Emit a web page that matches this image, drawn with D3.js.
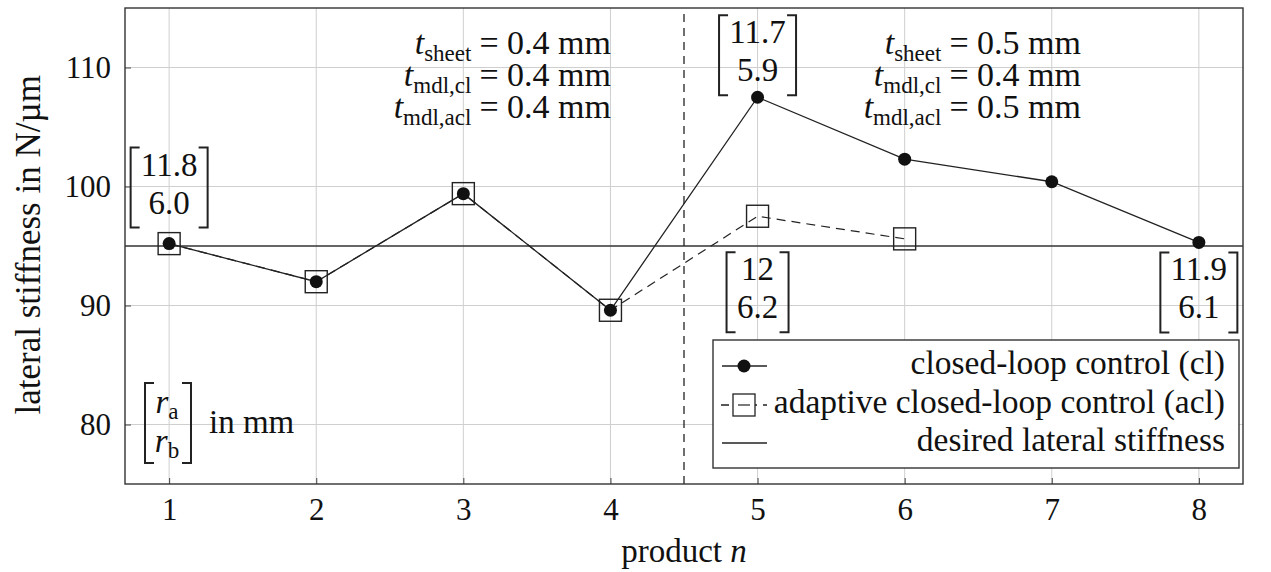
<!DOCTYPE html>
<html>
<head>
<meta charset="utf-8">
<script src="https://cdn.jsdelivr.net/npm/d3@7"></script>
<style>
  body { margin: 0; background: #fff; }
</style>
</head>
<body>
<svg id="chart" width="1271" height="572" font-family="Liberation Serif"></svg>
<script>
// data
var products = [1, 2, 3, 4, 5, 6, 7, 8];
var clValues = [95.2, 92.0, 99.4, 89.6, 107.5, 102.3, 100.4, 95.3];
var aclProducts = [1, 2, 3, 4, 5, 6];
var aclValues = [95.2, 92.0, 99.4, 89.6, 97.5, 95.6];
var desired = 95;
var yTicks = [80, 90, 100, 110];
var splitAt = 4.5;

// radius annotations [r_a; r_b]
var matProduct = [1, 5, 5, 8];
var matTop = ["11.8", "11.7", "12", "11.9"];
var matBottom = ["6.0", "5.9", "6.2", "6.1"];

var thickLabels = [["sheet", "mdl,cl", "mdl,acl"], ["sheet", "mdl,cl", "mdl,acl"]];
var thickValues = [["0.4", "0.4", "0.4"], ["0.5", "0.4", "0.5"]];

var legendLabels = ["closed-loop control (cl)", "adaptive closed-loop control (acl)", "desired lateral stiffness"];

var FONT = "Liberation Serif";
var svg = d3.select("#chart");
var margin = {top: 8, right: 28, bottom: 88, left: 125},
    width = +svg.attr("width") - margin.left - margin.right,
    height = +svg.attr("height") - margin.top - margin.bottom;

var x = d3.scaleLinear().domain([0.7, 8.3]).range([margin.left, margin.left + width]);
var y = d3.scaleLinear().domain([75, 115]).range([margin.top + height, margin.top]);

// grid
svg.append("g").selectAll("line")
    .data(products).enter().append("line")
    .attr("x1", function(d) { return x(d); }).attr("x2", function(d) { return x(d); })
    .attr("y1", y(75)).attr("y2", y(115))
    .attr("stroke", "#cfcfcf").attr("stroke-width", 1);
svg.append("g").selectAll("line")
    .data(yTicks).enter().append("line")
    .attr("y1", function(d) { return y(d); }).attr("y2", function(d) { return y(d); })
    .attr("x1", x(0.7)).attr("x2", x(8.3))
    .attr("stroke", "#cfcfcf").attr("stroke-width", 1);

// axes (ticks inward)
var xAxis = svg.append("g")
    .attr("transform", "translate(0," + y(75) + ")")
    .call(d3.axisBottom(x).tickValues(products).tickSize(-6).tickPadding(14).tickFormat(d3.format("d")));
var yAxis = svg.append("g")
    .attr("transform", "translate(" + x(0.7) + ",0)")
    .call(d3.axisLeft(y).tickValues(yTicks).tickSize(-6).tickPadding(14));
[xAxis, yAxis].forEach(function(a) {
    a.attr("font-family", FONT).attr("font-size", 31);
    a.select(".domain").remove();
    a.selectAll(".tick line").attr("stroke", "#444");
    a.selectAll(".tick text").attr("fill", "#111");
});

// desired stiffness
svg.append("line")
    .attr("x1", x(0.7)).attr("x2", x(8.3))
    .attr("y1", y(desired)).attr("y2", y(desired))
    .attr("stroke", "#333").attr("stroke-width", 1.3);

// split line
svg.append("line")
    .attr("x1", x(splitAt)).attr("x2", x(splitAt))
    .attr("y1", y(75)).attr("y2", y(115))
    .attr("stroke", "#222").attr("stroke-width", 1.3).attr("stroke-dasharray", "8,6");

// frame
svg.append("rect")
    .attr("x", x(0.7)).attr("y", y(115))
    .attr("width", width).attr("height", height)
    .attr("fill", "none").attr("stroke", "#333").attr("stroke-width", 1.4);

var line = d3.line().x(function(d) { return x(d[0]); }).y(function(d) { return y(d[1]); });
var aclPts = d3.zip(aclProducts, aclValues);
var clPts = d3.zip(products, clValues);

svg.append("path").datum(aclPts).attr("d", line)
    .attr("fill", "none").attr("stroke", "#222").attr("stroke-width", 1.2).attr("stroke-dasharray", "9,6");
svg.append("path").datum(clPts).attr("d", line)
    .attr("fill", "none").attr("stroke", "#222").attr("stroke-width", 1.3);

var sq = 22;
svg.selectAll("rect.acl").data(aclPts).enter().append("rect")
    .attr("class", "acl")
    .attr("x", function(d) { return x(d[0]) - sq / 2; })
    .attr("y", function(d) { return y(d[1]) - sq / 2; })
    .attr("width", sq).attr("height", sq)
    .attr("fill", "none").attr("stroke", "#222").attr("stroke-width", 1.4);
svg.selectAll("circle.cl").data(clPts).enter().append("circle")
    .attr("class", "cl")
    .attr("cx", function(d) { return x(d[0]); })
    .attr("cy", function(d) { return y(d[1]); })
    .attr("r", 6.5).attr("fill", "#111");

function txt(g, xx, yy, size, anchor) {
    return g.append("text").attr("x", xx).attr("y", yy)
        .attr("font-family", FONT).attr("font-size", size)
        .attr("text-anchor", anchor || "start").attr("fill", "#111");
}

// bracket helper
function bracket(g, cx, cy, w, h) {
    var l = cx - w / 2, r = cx + w / 2, t = cy - h / 2, b = cy + h / 2;
    g.append("path").attr("d", "M" + (l + 9) + "," + t + "H" + l + "V" + b + "H" + (l + 9))
        .attr("fill", "none").attr("stroke", "#222").attr("stroke-width", 2);
    g.append("path").attr("d", "M" + (r - 9) + "," + t + "H" + r + "V" + b + "H" + (r - 9))
        .attr("fill", "none").attr("stroke", "#222").attr("stroke-width", 2);
}

// matrix annotations: centre offsets relative to the associated point
var matAnchor = [clValues[0], clValues[4], aclValues[4], clValues[7]];
var matShift = [-56, -42, 76, 50];
matProduct.forEach(function(p, i) {
    var g = svg.append("g");
    var cx = x(p), cy = y(matAnchor[i]) + matShift[i];
    var w = matTop[i].length > 2 ? 77 : 62;
    bracket(g, cx, cy, w, 80);
    txt(g, cx, cy - 12, 33, "middle").text(matTop[i]);
    txt(g, cx, cy + 26, 33, "middle").text(matBottom[i]);
});

// [r_a; r_b] in mm
var rg = svg.append("g");
bracket(rg, 168, 423, 46, 80);
["a", "b"].forEach(function(s, i) {
    var t = txt(rg, 167, 413 + i * 39, 33, "middle");
    t.append("tspan").attr("font-style", "italic").text("r");
    t.append("tspan").attr("font-size", 23).attr("dy", 6).text(s);
});
txt(rg, 209, 433, 33).text("in mm");

// thickness blocks, right-aligned so the "=" signs line up
var blockRight = [611, 1081];
thickLabels.forEach(function(labels, b) {
    labels.forEach(function(lab, i) {
        var by = 54 + i * 32;
        var t = txt(svg, blockRight[b], by, 34, "end");
        t.append("tspan").attr("font-style", "italic").text("t");
        t.append("tspan").attr("font-size", 23).attr("dy", 7).text(lab);
        t.append("tspan").attr("dy", -7).attr("dx", 8).text("= " + thickValues[b][i] + " mm");
    });
});

// legend
var lg = svg.append("g");
lg.append("rect").attr("x", 713).attr("y", 340).attr("width", 526).attr("height", 128)
    .attr("fill", "#fff").attr("stroke", "#333").attr("stroke-width", 1.4);
var rowY = [366, 405, 443];
legendLabels.forEach(function(lab, i) {
    var ly = rowY[i];
    var ln = lg.append("line").attr("x1", 722).attr("x2", 767).attr("y1", ly).attr("y2", ly)
        .attr("stroke", "#222").attr("stroke-width", 1.3);
    if (i === 0) lg.append("circle").attr("cx", 744).attr("cy", ly).attr("r", 6.5).attr("fill", "#111");
    if (i === 1) {
        ln.attr("stroke-dasharray", "8,6").attr("x1", 721);
        lg.append("rect").attr("x", 733).attr("y", ly - 11).attr("width", 22).attr("height", 22)
            .attr("fill", "#fff").attr("stroke", "#222").attr("stroke-width", 1.3);
        lg.append("line").attr("x1", 738).attr("x2", 750).attr("y1", ly).attr("y2", ly).attr("stroke", "#222").attr("stroke-width", 1.2);
    }
    txt(lg, 1225, ly + 8, 33.5, "end").text(lab);
});

// axis titles
var xt = txt(svg, x(4.5), 562, 33, "middle");
xt.append("tspan").text("product ");
xt.append("tspan").attr("font-style", "italic").text("n");
txt(svg, 0, 0, 35, "middle")
    .attr("transform", "translate(40," + y(95.1) + ") rotate(-90)")
    .text("lateral stiffness in N/µm");
</script>
</body>
</html>
